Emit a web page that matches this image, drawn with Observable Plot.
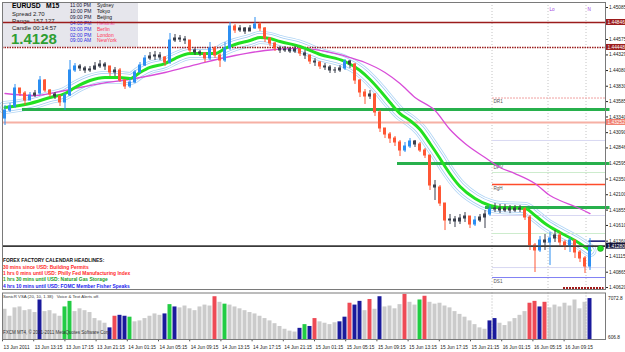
<!DOCTYPE html>
<html><head><meta charset="utf-8">
<script src="https://cdn.jsdelivr.net/npm/d3@7"></script>
<script src="https://cdn.jsdelivr.net/npm/@observablehq/plot@0.6"></script>
<style>
body{margin:0;background:#fff;}
#c{position:relative;width:625px;height:352px;overflow:hidden;font-family:"Liberation Sans",Arial,sans-serif;background:#fff;}
#c svg{position:absolute;left:0;}
.t{position:absolute;white-space:pre;line-height:1;}
</style></head><body><div id="c"></div>
<script>
// ---------------- DATA ----------------
const firstOpen = 1.43315;
const closes = [
1.43443,1.43507,1.43794,1.43714,1.43602,1.43682,1.43714,1.43921,1.43762,1.43698,
1.43666,1.43571,1.43682,1.44081,1.44145,1.44113,1.44081,1.44097,1.44145,1.44176,
1.44145,1.44049,1.44081,1.43921,1.43826,1.43889,1.44049,1.44160,1.44272,1.44304,
1.44320,1.44288,1.44208,1.44559,1.44591,1.44575,1.44559,1.44400,1.44368,1.44352,
1.44272,1.44432,1.44320,1.44240,1.44432,1.44782,1.44719,1.44751,1.44703,1.44751,
1.44814,1.44751,1.44591,1.44511,1.44432,1.44400,1.44416,1.44384,1.44416,1.44352,
1.44320,1.44224,1.44208,1.44145,1.44129,1.44081,1.44081,1.44113,1.44224,1.44176,
1.43921,1.43730,1.43666,1.43698,1.43411,1.43156,1.43060,1.42996,1.42933,1.42805,
1.42869,1.42949,1.42901,1.42805,1.42725,1.42247,1.42215,1.41960,1.41689,1.41705,
1.41673,1.41721,1.41753,1.41625,1.41689,1.41737,1.41785,1.41864,1.41880,1.41848,
1.41880,1.41848,1.41880,1.41864,1.41737,1.41290,1.41211,1.41370,1.41338,1.41402,
1.41450,1.41338,1.41274,1.41370,1.41179,1.41083,1.40955,1.41280];
const highs = [
1.43523,1.43555,1.43858,1.43794,1.43746,1.43730,1.43762,1.43985,1.43937,1.43778,
1.43730,1.43682,1.43714,1.44240,1.44192,1.44176,1.44145,1.44145,1.44208,1.44240,
1.44208,1.44145,1.44129,1.44113,1.43937,1.43953,1.44081,1.44208,1.44320,1.44368,
1.44384,1.44368,1.44304,1.44671,1.44655,1.44639,1.44623,1.44559,1.44432,1.44400,
1.44368,1.44527,1.44463,1.44352,1.44527,1.44846,1.44814,1.44798,1.44766,1.44798,
1.44926,1.44846,1.44766,1.44607,1.44527,1.44463,1.44463,1.44448,1.44463,1.44432,
1.44400,1.44304,1.44272,1.44224,1.44192,1.44160,1.44129,1.44160,1.44256,1.44240,
1.44192,1.43937,1.43778,1.43762,1.43714,1.43443,1.43156,1.43092,1.43028,1.42965,
1.42933,1.42996,1.42965,1.42933,1.42837,1.42725,1.42327,1.42247,1.41960,1.41785,
1.41753,1.41785,1.41816,1.41721,1.41753,1.41785,1.41848,1.41928,1.41960,1.41944,
1.41944,1.41928,1.41928,1.41928,1.41896,1.41769,1.41322,1.41434,1.41466,1.41498,
1.41529,1.41498,1.41370,1.41418,1.41370,1.41211,1.41115,1.41402];
const lows = [
1.43204,1.43411,1.43475,1.43666,1.43523,1.43602,1.43650,1.43682,1.43730,1.43650,
1.43618,1.43507,1.43443,1.43666,1.44049,1.44065,1.44033,1.44049,1.44081,1.44113,
1.44081,1.43985,1.43985,1.43889,1.43778,1.43794,1.43873,1.44033,1.44145,1.44240,
1.44240,1.44240,1.44145,1.44176,1.44527,1.44527,1.44495,1.44352,1.44320,1.44304,
1.44208,1.44240,1.44272,1.44129,1.44208,1.44400,1.44671,1.44687,1.44655,1.44703,
1.44735,1.44703,1.44527,1.44463,1.44384,1.44352,1.44368,1.44352,1.44352,1.44304,
1.44256,1.44176,1.44145,1.44097,1.44081,1.44033,1.44033,1.44049,1.44081,1.44113,
1.43858,1.43650,1.43539,1.43618,1.43347,1.43092,1.42996,1.42917,1.42869,1.42709,
1.42773,1.42837,1.42853,1.42773,1.42677,1.42167,1.42008,1.41912,1.41529,1.41625,
1.41577,1.41625,1.41657,1.41561,1.41593,1.41657,1.41561,1.41753,1.41816,1.41800,
1.41816,1.41800,1.41816,1.41816,1.41689,1.41211,1.40860,1.41179,1.41211,1.40971,
1.41338,1.41274,1.41211,1.41179,1.41083,1.41019,1.40844,1.40892];

const maFastIdx = [0,5,9,12,14,17,20,23,25,27,29,32,34,37,40,42,44,46,49,51,53,55,59,63,68,71,73,75,77,79,81,83,85,87,88,91,94,97,99,104,106,108,111,114,117];
const maFast = [1.43491,1.43555,1.43650,1.43714,1.43810,1.43921,1.43969,1.43969,1.43953,1.44049,1.44129,1.44192,1.44272,1.44352,1.44352,1.44352,1.44432,1.44495,1.44559,1.44607,1.44591,1.44543,1.44463,1.44336,1.44224,1.44081,1.43937,1.43762,1.43571,1.43395,1.43283,1.43140,1.42917,1.42677,1.42550,1.42231,1.42040,1.41928,1.41896,1.41880,1.41769,1.41641,1.41498,1.41370,1.41211];
const maSlowIdx = [0,6,12,19,26,32,39,46,52,59,66,69,72,76,79,82,86,89,92,96,99,102,106,109,111,114,117];
const maSlow = [1.43714,1.43682,1.43762,1.43873,1.43953,1.44049,1.44192,1.44320,1.44400,1.44432,1.44352,1.44288,1.44208,1.44049,1.43873,1.43650,1.43443,1.43140,1.42917,1.42693,1.42534,1.42438,1.42279,1.42088,1.42008,1.41912,1.41800];

const levelPrice = [1.44846,1.44448,1.43252,1.43459,1.42598,1.41896,1.42263,1.43642,1.42965,1.42454,1.41769,1.41482,1.40939,1.40780,1.41280,1.41360,1.40605];
const levelFrom  = [-0.5,-0.5,-0.5,3.5,78.5,96.1,97.5,97.5,97.5,97.5,97.5,97.5,97.5,97.5,-0.5,116.8,111.7];
const levelTo    = [120.1,120.1,120.1,121,121,121,120.1,120.1,120.1,120.1,120.1,120.1,120.1,120.1,120.1,120.1,119.8];
const levelLabel = ["","","","","DPV","","RgH","DR1","","","","","","DS1","","",""];

const priceTicks = [1.45085,1.44575,1.44329,1.44080,1.43830,1.43585,1.43340,1.43090,1.42846,1.42595,1.42350,1.42100,1.41855,1.41610,1.41360,1.41115,1.40865,1.40620];
const boxPrice = [1.44846,1.44448,1.43252,1.41280];
const boxText = ["1.44846","1.44448","1.43252","1.41280"];
const markerPrice = 1.41243;

const volume = [65,50,68,70,62,64,58,85,60,62, 55,50,70,82,60,66,62,58,45,40, 35,25,50,52,50,48,38,40,45,50,
 55,52,55,75,70,68,72,66,62,70, 74,72,92,80,76,74,70,66,62,58, 55,50,45,40,34,28,22,18,16,24,
 32,28,45,38,35,32,36,38,48,78, 74,82,62,86,65,92,70,72,66,75, 97,80,74,85,93,80,76,78,72,68,
 60,54,48,40,32,25,22,40,45,35, 30,38,45,52,60,78,82,70,80,68, 74,70,78,72,85,66,80,88];
const volType = [
 "n","n","n","n","n","n","n","h","n","n", "n","n","g","g","n","n","n","n","n","n",
 "n","h","c","h","h","g","n","n","n","n", "n","n","h","g","h","n","n","n","n","n",
 "n","n","c","n","g","n","n","n","n","n", "n","n","n","n","n","n","n","n","n","h",
 "g","h","c","n","n","n","n","h","h","c", "h","h","n","c","n","h","n","n","n","n",
 "c","n","n","g","c","n","n","n","n","n", "n","n","n","n","n","n","n","h","h","n",
 "n","n","n","n","n","c","c","h","c","n", "n","n","n","n","n","n","n","h"];
const volAxis = ["7072.8","606.8"];

const timeLabels = ["13 Jun 2011","13 Jun 13:15","13 Jun 17:15","13 Jun 21:15","14 Jun 01:15","14 Jun 05:15","14 Jun 09:15","14 Jun 13:15","14 Jun 17:15","14 Jun 21:15","15 Jun 01:15","15 Jun 05:15","15 Jun 09:15","15 Jun 13:15","15 Jun 17:15","15 Jun 21:15","16 Jun 01:15","16 Jun 05:15","16 Jun 09:15"];
const sessionIdx = [97.4,108.6,116.2];
const sessionLabel = ["","Lo","N"];

const infoRows = [["EURUSD","M15"],["Spread","2.70"],["Range","157.127"],["Candle","00:14:57"]];
const bigPrice = "1.4128";
const sessTimes = ["11:00 PM","10:00 PM","09:00 PM","04:00 PM","03:00 PM","02:00 PM","09:00 AM"];
const sessCities = ["Sydney","Tokyo","Beijing","Helsinki","Berlin","London","NewYork"];
const newsTitle = "FOREX FACTORY CALENDAR HEADLINES:";
const newsLines = ["30 mins since USD: Building Permits","1 hrs 0 mins until USD: Philly Fed Manufacturing Index","1 hrs 30 mins until USD: Natural Gas Storage","4 hrs 10 mins until USD: FOMC Member Fisher Speaks"];
const indicatorTitle = "SonicR VSA (20, 10, 1.38)   Voice & Text Alerts off.";
const copyright = "FXCM MT4, \u00A9 2001-2011 MetaQuotes Software Corp.";

// ---------------- BUILD ----------------
const root = document.getElementById("c");
const FONT = "Liberation Sans, Arial, sans-serif";
function addText(x, y, s, o = {}) {
  const d = document.createElement("div");
  d.className = "t";
  d.textContent = s;
  const size = o.size || 5;
  d.style.left = x + "px";
  d.style.top = (y - size * 0.55) + "px";
  d.style.fontSize = size + "px";
  d.style.color = o.color || "#000";
  d.style.fontWeight = o.weight || "normal";
  root.appendChild(d);
}
const panel = document.createElement("div");
Object.assign(panel.style, {position:"absolute", left:"2px", top:"2px", width:"136px", height:"45px", background:"#e6e6ec"});
root.appendChild(panel);
addText(12, 6.5, infoRows[0][0], {size: 6.8, weight: "bold"});
addText(46, 6.5, infoRows[0][1], {size: 6.8, weight: "bold"});
[14.5, 21.5, 28.5].forEach((y, k) => {
  addText(12, y, infoRows[k + 1][0], {size: 6, color: "#222"});
  addText(33, y, infoRows[k + 1][1], {size: 6, color: "#222"});
});
addText(11, 39, bigPrice, {size: 15, weight: "bold", color: "#2e9e32"});
sessTimes.forEach((s, k) => {
  const y = 6 + k * 5.85;
  addText(70, y, s, {size: 5, color: k < 3 ? "#111133" : "#2a2ae0"});
  addText(97, y, sessCities[k], {size: 5, color: k < 3 ? "#111" : (k === 3 ? "#ff44aa" : "#ff3355")});
});

const N = closes.length;
const X0 = -0.5, X1 = 120.1;
const candles = closes.map((c, i) => ({i, open: i ? closes[i - 1] : firstOpen, close: c, high: highs[i], low: lows[i]}));
const candleColor = d => Math.abs(d.close - d.open) < 0.0005 ? "#3a3f4c" : d.close > d.open ? "#2b8ef2" : "#ff5634";
const fast = maFastIdx.map((i, k) => ({i, p: maFast[k]}));
const slow = maSlowIdx.map((i, k) => ({i, p: maSlow[k]}));
const levels = levelPrice.map((p, k) => ({p, from: levelFrom[k], to: levelTo[k], label: levelLabel[k]}));
const levelStyle = [
  {c:"#9b1c1c", w:1.5}, {c:"#9b1c1c", w:1.5, d:"1.5,1"}, {c:"#f6b0a4", w:2},
  {c:"#27b04c", w:3}, {c:"#27b04c", w:3}, {c:"#27b04c", w:3},
  {c:"#ff4b2b", w:1.5}, {c:"#f0a0a0", w:1, d:"2,1"},
  {c:"#d8d8f2", w:1}, {c:"#cdeccd", w:1}, {c:"#d8d8f2", w:1}, {c:"#cdeccd", w:1}, {c:"#d8d8f2", w:1},
  {c:"#8080f4", w:1}, {c:"#3a3a3a", w:1.5}, {c:"#101070", w:1.5}, {c:"#a01818", w:3, d:"2,1"}];
const boxFill = ["#9b1c1c","#9b1c1c","#f08070","#141438"];
const boxes = boxPrice.map((p, k) => ({p, t: boxText[k], f: boxFill[k]}));
const sessions = sessionIdx.map((i, k) => ({i, label: sessionLabel[k]}));
const curve = "monotone-x";

const mainPlot = Plot.plot({
  width: 625, height: 291,
  marginLeft: 2, marginRight: 20, marginTop: 2, marginBottom: 2,
  style: {background: "transparent", fontFamily: FONT, fontSize: "4.8px", color: "#222", overflow: "visible"},
  x: {domain: [X0, X1], axis: null},
  y: {domain: [1.40589, 1.45165], axis: "right", ticks: priceTicks, tickFormat: d => d.toFixed(5), tickSize: 2, tickPadding: 1.5, label: null},
  marks: [
    Plot.ruleX(sessions, {x: "i", stroke: "#c4c4c4", strokeDasharray: "1,2"}),
    Plot.text(sessions, {x: "i", text: "label", frameAnchor: "top", textAnchor: "start", dx: 1.5, dy: 5, fill: "#9a3ae0", fontSize: 4.6}),
    Plot.line(fast, {x: "i", y: "p", stroke: "#b0d5f5", strokeWidth: 13, curve}),
    Plot.line(fast, {x: "i", y: "p", stroke: "#ffffff", strokeWidth: 11.4, curve}),
    Plot.line(fast, {x: "i", y: "p", stroke: "#9fcaf2", strokeWidth: 9, curve}),
    Plot.line(fast, {x: "i", y: "p", stroke: "#ffffff", strokeWidth: 7.4, curve}),
    ...levels.map((lv, k) => Plot.ruleY([lv], {y: "p", x1: "from", x2: "to", stroke: levelStyle[k].c, strokeWidth: levelStyle[k].w, strokeDasharray: levelStyle[k].d})),
    Plot.text(levels.filter(d => d.label), {x: () => 97.7, y: "p", text: "label", textAnchor: "start", dy: 3.8, fill: "#555", fontSize: 4.6}),
    Plot.line(slow, {x: "i", y: "p", stroke: "#d84cd8", strokeWidth: 1.3, curve}),
    Plot.line(fast, {x: "i", y: "p", stroke: "#22e022", strokeWidth: 3, curve}),
    Plot.ruleX(candles, {x: "i", y1: "low", y2: "high", stroke: candleColor, strokeWidth: 1}),
    Plot.rect(candles, {x1: d => d.i - 0.3, x2: d => d.i + 0.3, y1: "open", y2: "close", insetTop: -0.5, insetBottom: -0.5, fill: candleColor}),
    Plot.ruleY([levels[14]], {y: "p", x1: "from", x2: "to", stroke: "#3a3a3a", strokeWidth: 1.2}),
    Plot.dot([{i: X1 - 1, p: markerPrice}], {x: "i", y: "p", r: 3, fill: "#22dd22", stroke: "#0a8a0a", strokeWidth: 0.5}),
    Plot.rect(boxes, {x1: () => X1 + 0.1, x2: () => X1 + 4, y1: "p", y2: "p", insetTop: -3, insetBottom: -3, fill: d => d.f}),
    Plot.text(boxes, {x: () => X1 + 0.1, y: "p", text: "t", textAnchor: "start", dx: 1.5, fill: "white", fontSize: 4.8}),
    Plot.frame({stroke: "#7a7a7a"})
  ]
});
mainPlot.style.top = "0px";
root.appendChild(mainPlot);

const vols = volume.map((v, i) => ({i, v, t: volType[i]}));
const volColor = {n: "#cbcbcb", h: "#1a1a9c", c: "#ee4a55", g: "#22cc44"};
const step = 6.24;
const timeTicks = timeLabels.map((label, k) => ({label, pos: X0 + k * step}));
const volPlot = Plot.plot({
  width: 625, height: 62,
  marginLeft: 2, marginRight: 20, marginTop: 2.5, marginBottom: 13,
  style: {background: "transparent", fontFamily: FONT, fontSize: "4.8px", color: "#222", overflow: "visible"},
  x: {domain: [X0, X1], axis: null},
  y: {domain: [0, 100], axis: null},
  marks: [
    Plot.rectY(vols, {x1: d => d.i - 0.4, x2: d => d.i + 0.4, y: "v", fill: d => volColor[d.t]}),
    Plot.ruleX(sessions, {x: "i", stroke: "#b4b4b4", strokeDasharray: "1,2"}),
    Plot.ruleX(timeTicks, {x: "pos", y1: 0, y2: -5, stroke: "#555"}),
    Plot.text(timeTicks, {x: "pos", y: () => 0, text: "label", textAnchor: "start", dx: 1, dy: 7.5, fill: "#222", fontSize: 4.8}),
    Plot.text([volAxis[0]], {frameAnchor: "top-right", textAnchor: "start", dx: 2.5, dy: 4, fill: "#222", fontSize: 4.8}),
    Plot.text([volAxis[1]], {frameAnchor: "bottom-right", textAnchor: "start", dx: 2.5, dy: -1, fill: "#222", fontSize: 4.8}),
    Plot.frame({stroke: "#7a7a7a"})
  ]
});
volPlot.style.top = "290px";
root.appendChild(volPlot);

addText(3, 262, newsTitle, {size: 4.9, weight: "bold", color: "#111"});
const newsColors = ["#ff2a2a", "#ff2a2a", "#22a022", "#2222ee"];
newsLines.forEach((s, k) => addText(3, 268.7 + k * 6.2, s, {size: 4.9, weight: "bold", color: newsColors[k]}));
addText(3, 297.5, indicatorTitle, {size: 4.3, color: "#333"});
addText(3, 333.5, copyright, {size: 4.5, color: "#333"});
</script></body></html>
